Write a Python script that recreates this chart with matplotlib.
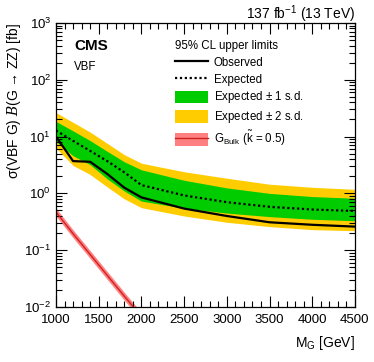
import matplotlib
matplotlib.use("Agg")
import matplotlib.pyplot as plt
from matplotlib.ticker import MultipleLocator, LogLocator, NullFormatter
from matplotlib.patches import Patch
from matplotlib.lines import Line2D

plt.rcParams['font.family'] = ['Liberation Sans', 'DejaVu Sans']
plt.rcParams['mathtext.fontset'] = 'custom'
plt.rcParams['mathtext.rm'] = 'Liberation Sans'
plt.rcParams['mathtext.it'] = 'Liberation Sans:italic'
plt.rcParams['mathtext.cal'] = 'DejaVu Serif:italic'

# resonance masses [GeV]
mass = [1000, 1200, 1400, 1600, 1800, 2000, 2500, 3000, 3500, 4000, 4500]

# 95% CL limits [fb]
observed = [10.0, 3.7, 3.6, 2.2, 1.26, 0.85, 0.54, 0.40, 0.31, 0.28, 0.26]
expected = [12.8, 8.4, 5.6, 3.7, 2.35, 1.4, 0.92, 0.70, 0.58, 0.52, 0.49]
exp_1sd_up = [18.5, 12.6, 8.5, 5.5, 3.6, 2.6, 1.7, 1.25, 1.0, 0.88, 0.82]
exp_1sd_dn = [8.2, 4.6, 3.2, 1.8, 1.1, 0.73, 0.55, 0.45, 0.39, 0.35, 0.33]
exp_2sd_up = [26.5, 17.8, 12.0, 7.6, 4.8, 3.4, 2.4, 1.85, 1.45, 1.28, 1.18]
exp_2sd_dn = [6.3, 3.1, 2.15, 1.3, 0.8, 0.56, 0.40, 0.31, 0.26, 0.23, 0.22]

# bulk graviton theory prediction
theory_mass = [1000, 1200, 1400, 1600, 1800, 2000]
theory_xs = [0.47, 0.195, 0.084, 0.036, 0.0155, 0.0068]
theory_up = [x * 1.17 for x in theory_xs]
theory_dn = [x * 0.85 for x in theory_xs]

green = '#00cc00'
yellow = '#ffcc00'
band_red = '#ff8080'
line_red = '#cc2222'

fig = plt.figure(figsize=(3.74, 3.62), dpi=100)
ax = fig.add_axes([0.1497, 0.152, 0.7993, 0.7845])

ax.fill_between(mass, exp_2sd_dn, exp_2sd_up, color=yellow, lw=0)
ax.fill_between(mass, exp_1sd_dn, exp_1sd_up, color=green, lw=0)
ax.plot(mass, expected, color='black', lw=1.6, ls=(0, (1, 1.2)))
ax.plot(mass, observed, color='black', lw=1.6)

ax.fill_between(theory_mass, theory_dn, theory_up, color=band_red, lw=0)
ax.plot(theory_mass, theory_xs, color=line_red, lw=1.0)

ax.set_yscale('log')
ax.set_xlim(1000, 4500)
ax.set_ylim(1e-2, 1e3)

ax.xaxis.set_major_locator(MultipleLocator(500))
ax.xaxis.set_minor_locator(MultipleLocator(100))
ax.yaxis.set_major_locator(LogLocator(base=10, numticks=10))
ax.yaxis.set_minor_locator(LogLocator(base=10, subs=range(2, 10), numticks=10))
ax.yaxis.set_minor_formatter(NullFormatter())
ax.tick_params(which='both', direction='in', top=True, right=True, labelsize=9.5)
ax.tick_params(which='major', length=8, width=0.8)
ax.tick_params(which='minor', length=4, width=0.8)
ax.tick_params(axis='x', pad=5)
for s in ax.spines.values():
    s.set_linewidth(0.9)

ax.set_xlabel(r'M$_{\mathrm{G}}$ [GeV]', fontsize=10, loc='right', labelpad=6)
ax.set_ylabel('σ(VBF G) $\\mathcal{B}$(G → ZZ) [fb]', fontsize=10,
              loc='top', labelpad=1)

ax.text(1.0, 1.015, r'137 fb$^{-1}$ (13 TeV)', transform=ax.transAxes,
        ha='right', va='baseline', fontsize=10)
ax.text(0.06, 0.92, 'CMS', transform=ax.transAxes, fontsize=11,
        fontweight='bold', va='center')
ax.text(0.06, 0.845, 'VBF', transform=ax.transAxes, fontsize=8.3, va='center')

handles = [
    Line2D([], [], color='black', lw=1.6),
    Line2D([], [], color='black', lw=1.6, ls=(0, (1, 1.2))),
    Patch(facecolor=green, edgecolor='none'),
    Patch(facecolor=yellow, edgecolor='none'),
    (Patch(facecolor=band_red, edgecolor='none'),
     Line2D([], [], color=line_red, lw=1.0)),
]
labels = ['Observed', 'Expected', r'Expected $\pm$ 1 s.d.', r'Expected $\pm$ 2 s.d.',
          r'G$_{\mathrm{Bulk}}$ ($\tilde{\mathrm{k}}$ = 0.5)']
leg = ax.legend(handles, labels, loc='upper left', bbox_to_anchor=(0.37, 0.968),
                frameon=False, fontsize=8.3, title='95% CL upper limits',
                title_fontsize=8.3, handlelength=2.9, handleheight=1.25,
                labelspacing=0.33, handletextpad=0.5, borderpad=0.2)
leg._legend_box.align = 'left'

fig.savefig('out.png', dpi=100)
